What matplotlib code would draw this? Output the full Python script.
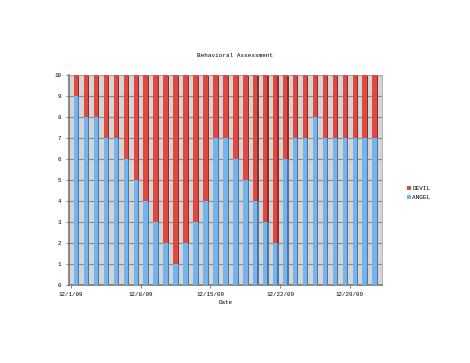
import numpy as np
import matplotlib
matplotlib.use('Agg')
from matplotlib import pyplot as plt

plt.rcParams['font.family'] = ['Liberation Mono', 'DejaVu Sans Mono']

days = list(range(1, 32))
angel = [9, 8, 8, 7, 7, 6, 5, 4, 3, 2, 1, 2, 3, 4, 7, 7, 6, 5, 4, 3, 2, 6, 7, 7, 8, 7, 7, 7, 7, 7, 7]
devil = [10 - a for a in angel]
tick_labels = ['12/1/09', '12/8/09', '12/15/09', '12/22/09', '12/29/09']

blue = '#73b4ee'
red = '#df4941'

fig = plt.figure(figsize=(4.7, 3.63), dpi=100)
ax = fig.add_axes([0.147, 0.215, 0.665, 0.578])
ax.set_facecolor('#d4d4d4')

x = np.array(days) - 0.5
# dark sides to fake the 3d depth
ax.bar(x + 0.12, angel, width=0.45, color='#4a77a6', zorder=2)
ax.bar(x + 0.12, devil, bottom=angel, width=0.45, color='#8e2c28', zorder=2)
ax.bar(x, angel, width=0.45, color=blue, label='ANGEL', zorder=3)
ax.bar(x, devil, bottom=angel, width=0.45, color=red, label='DEVIL', zorder=3)

ax.set_xlim(-0.2, 31.2)
ax.set_ylim(0, 10)
ax.set_yticks(range(0, 11))
ax.set_xticks([0, 7, 14, 21, 28])
ax.set_xticklabels(tick_labels)
ax.yaxis.grid(True, color='#8a8a8a', linewidth=0.8, zorder=1)
ax.set_axisbelow(True)
ax.tick_params(labelsize=4.2, length=2, color='#888888')
ax.tick_params(axis='y', pad=3.5)
ax.tick_params(axis='x', pad=3)
for s in ['top', 'right']:
    ax.spines[s].set_color('#aaaaaa')
    ax.spines[s].set_linewidth(0.6)
for s in ['left', 'bottom']:
    ax.spines[s].set_color('#777777')
    ax.spines[s].set_linewidth(1.2)

ax.set_xlabel('Date', fontsize=4.2, labelpad=2)
fig.text(0.5, 0.848, 'Behavioral Assessment', ha='center', va='center', fontsize=4.3)

h, l = ax.get_legend_handles_labels()
fig.legend([h[1], h[0]], [l[1], l[0]], loc='center left', bbox_to_anchor=(0.855, 0.468),
           fontsize=4.3, frameon=False, handlelength=0.6, handleheight=0.6,
           handletextpad=0.2, labelspacing=0.6)

fig.savefig('out.png', dpi=100)
